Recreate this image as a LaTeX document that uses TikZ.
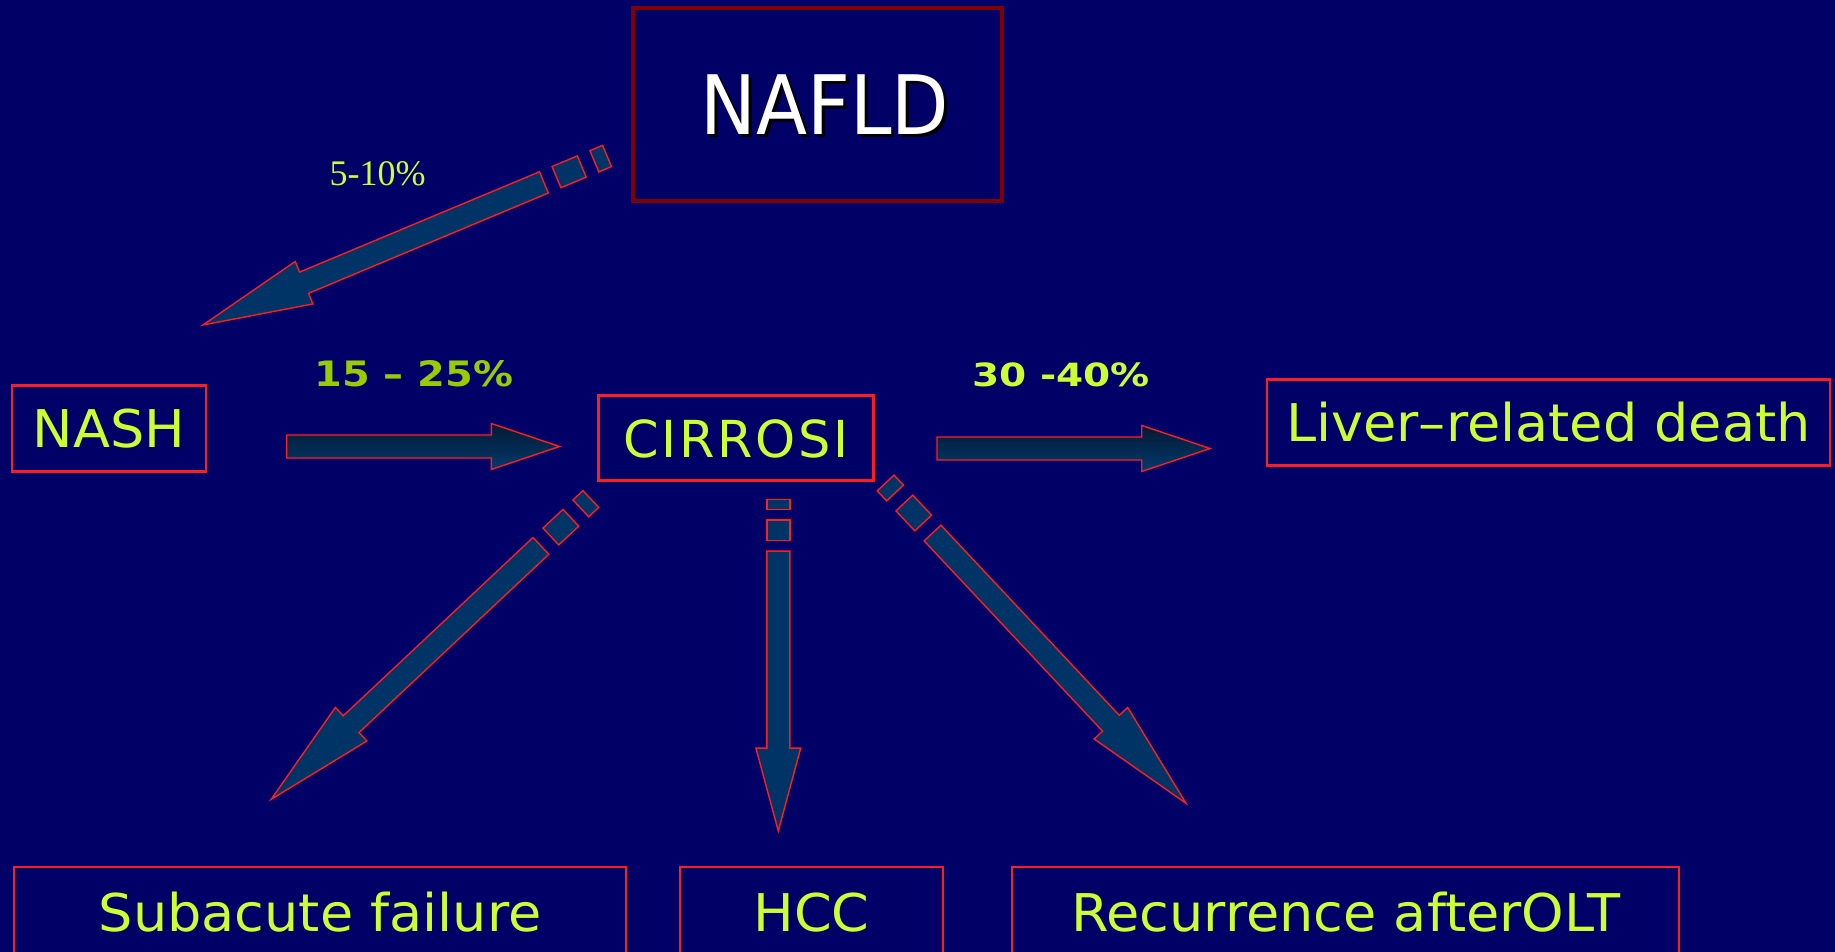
\documentclass[tikz,border=0pt]{standalone}
\usepackage{fontspec}
\usepackage{graphicx}
\newfontfamily\dejavu{DejaVu Sans}
\newfontfamily\dejavucir[LetterSpace=5]{DejaVu Sans}
\newfontfamily\timesf{Liberation Serif}
\definecolor{bgblue}{RGB}{0,0,102}
\definecolor{afill}{RGB}{0,51,102}
\definecolor{ared}{RGB}{255,30,30}
\definecolor{txtlime}{RGB}{204,255,51}
\definecolor{lblolive}{RGB}{153,204,0}
\definecolor{nafred}{RGB}{128,0,0}
\definecolor{gtop}{RGB}{5,25,50}
\definecolor{gbot}{RGB}{0,58,110}
\tikzset{
  arrowshape/.style={draw=ared, fill=afill, line width=1.4pt, line join=miter},
  gradshape/.style={draw=ared, top color=gtop, bottom color=gbot, line width=1.4pt},
  boxnode/.style={draw=ared, line width=2.2pt, text=txtlime, inner sep=0pt,
    text height=38pt, text depth=0pt, align=center,
    font=\dejavu\fontsize{52}{60}\selectfont},
}
\newcommand\wtext[1]{\scalebox{1.04}[1]{#1}}
\newcommand\shadowtext[1]{\leavevmode\rlap{\hspace{3pt}\raisebox{-3pt}{\color{black}#1}}{\color{white}#1}}
\newcommand\stripedarrow[5]{%
  \pgfmathsetmacro\arDX{#3-#1}%
  \pgfmathsetmacro\arDY{#2-#4}%
  \pgfmathsetmacro\arAng{atan2(\arDY,\arDX)}%
  \pgfmathsetmacro\arLen{veclen(\arDX,\arDY)}%
  \pgfmathsetmacro\arU{\arLen/32}%
  \pgfmathsetmacro\arHB{\arLen*3/4}%
  \begin{scope}[shift={(#1,#2)},rotate=\arAng]
    \filldraw[arrowshape] (0,-11.5) rectangle (\arU,11.5);
    \filldraw[arrowshape] (2*\arU,-11.5) rectangle (4*\arU,11.5);
    \filldraw[arrowshape] (5*\arU,-11.5) -- (\arHB,-11.5) -- (\arHB,-#5) -- (\arLen,0)
      -- (\arHB,#5) -- (\arHB,11.5) -- (5*\arU,11.5) -- cycle;
  \end{scope}}
\newcommand\gradarrow[3]{%
  \pgfmathsetmacro\arLen{#3-#1}%
  \pgfmathsetmacro\arHB{#1+\arLen*3/4}%
  \draw[gradshape] (#1,#2-11.5) -- (\arHB,#2-11.5) -- (\arHB,#2-23) -- (#3,#2)
    -- (\arHB,#2+23) -- (\arHB,#2+11.5) -- (#1,#2+11.5) -- cycle;}
\begin{document}
\begin{tikzpicture}[x=1pt,y=-1pt]
\useasboundingbox (0,0) rectangle (1835,952);
\fill[bgblue] (0,0) rectangle (1835,952);
\clip (0,0) rectangle (1835,952);

% boxes
\node[draw=nafred, line width=4.5pt, inner sep=0pt, minimum width=369pt, minimum height=193pt,
      text height=60pt, text depth=0pt,
      font=\dejavu\fontsize{82}{90}\selectfont] (nafld) at (817.5,104.5)
  {\hspace*{15pt}\scalebox{0.91}[1]{\shadowtext{NAFLD}}};
\node[boxnode, minimum width=194pt, minimum height=86pt] (nash) at (109,428.5) {\wtext{NASH}};
\node[boxnode, minimum width=275pt, minimum height=85pt, font=\dejavucir\fontsize{51}{60}\selectfont] (cirrosi) at (736,438) {CIRROSI};
\node[boxnode, minimum width=563.5pt, minimum height=86pt] (death) at (1548.5,422.5) {\wtext{Liver–related death}};
\node[boxnode, minimum width=612pt, minimum height=90.4pt] (subacute) at (320,912.5) {\wtext{Subacute failure}};
\node[boxnode, minimum width=263pt, minimum height=90.4pt] (hcc) at (811.6,912.5) {\wtext{HCC}};
\node[boxnode, minimum width=667pt, minimum height=90.4pt] (recur) at (1345.8,912.5) {\wtext{Recurrence afterOLT}};

% labels
\node[anchor=base, inner sep=0pt, text=txtlime, font=\timesf\fontsize{36}{40}\selectfont] (l510) at (377.5,185.7) {5-10\%};
\node[anchor=base, inner sep=0pt, text=lblolive, font=\dejavu\bfseries\fontsize{35}{40}\selectfont] (l1525) at (413.7,386.7) {\scalebox{1.14}[1]{15 – 25\%}};
\node[anchor=base, inner sep=0pt, text=txtlime, font=\dejavu\bfseries\fontsize{32}{40}\selectfont] (l3040) at (1061,386.7) {\scalebox{1.22}[1]{30 -40\%}};

% arrows
\stripedarrow{607}{156}{203}{325}{23}
\stripedarrow{590.8}{499}{271.2}{799.3}{23}
\stripedarrow{778.3}{499.3}{778.3}{831}{22.4}
\stripedarrow{885.6}{483}{1186}{803.3}{23}
\gradarrow{286.7}{446.5}{559.5}
\gradarrow{937}{448.5}{1210}
\end{tikzpicture}
\end{document}
